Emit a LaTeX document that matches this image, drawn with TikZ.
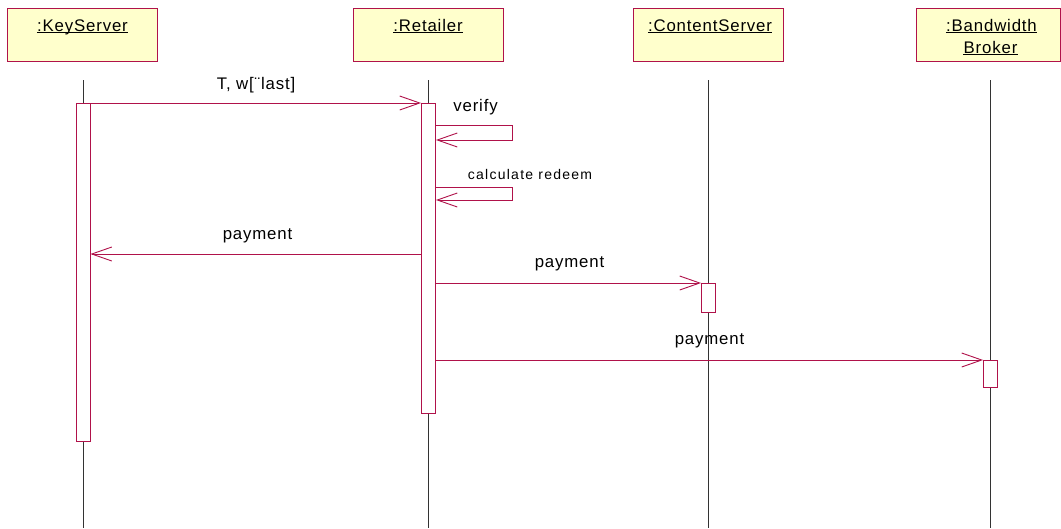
\documentclass[tikz,border=0pt]{standalone}
\usepackage{fontspec}
\setmainfont{Liberation Sans}
\newfontfamily\lblfont[LetterSpace=5]{Liberation Sans}
\newfontfamily\smallfont[LetterSpace=9]{Liberation Sans}
\usetikzlibrary{arrows.meta}
\definecolor{umlred}{HTML}{B0124A}
\definecolor{umlyellow}{HTML}{FFFFCC}
\definecolor{lifegray}{HTML}{333333}
\tikzset{
  obj/.style={draw=umlred, fill=umlyellow, line width=0.9pt, minimum height=53pt, inner sep=0pt},
  act/.style={draw=umlred, fill=white, line width=0.9pt, minimum width=14pt, inner sep=0pt},
  life/.style={draw=lifegray, line width=0.9pt},
  msg/.style={draw=umlred, line width=0.9pt, -{Straight Barb[length=20pt,width=14pt,line width=0.9pt]}},
  selfmsg/.style={msg, rounded corners=0pt},
  lbl/.style={anchor=base, inner sep=0pt, text=black, font=\lblfont\fontsize{16.8}{18}\selectfont},
  smalllbl/.style={anchor=base, inner sep=0pt, text=black, font=\smallfont\fontsize{14}{16}\selectfont},
  ul/.style={draw=black, line width=1pt}
}
\begin{document}
\begin{tikzpicture}[x=1pt,y=-1pt]
\path[use as bounding box, fill=white] (0,0) rectangle (1061,528);

% object boxes
\node[obj, minimum width=150pt] (ks) at (82,34.5) {};
\node[obj, minimum width=150pt] (ret) at (428,34.5) {};
\node[obj, minimum width=150pt] (cs) at (708,34.5) {};
\node[obj, minimum width=144pt] (bb) at (988,34.5) {};

% object names
\node[lbl] (ksname) at (82.5,31) {:KeyServer};
\node[lbl] (retname) at (428,31) {:Retailer};
\node[lbl] (csname) at (710,31) {:ContentServer};
\node[lbl] (bbname1) at (991.5,31) {:Bandwidth\ };
\node[lbl] (bbname2) at (990.5,53) {Broker};
\foreach \n in {ksname,retname,csname,bbname1,bbname2}
  \draw[ul] ([yshift=-1.6pt]\n.base west) -- ([yshift=-1.6pt]\n.base east);

% lifelines
\coordinate (kstop) at (83,80);   \coordinate (ksbot) at (83,528);
\coordinate (rettop) at (428.5,80); \coordinate (retbot) at (428.5,528);
\coordinate (cstop) at (708.5,80);  \coordinate (csbot) at (708.5,528);
\coordinate (bbtop) at (990.5,80);  \coordinate (bbbot) at (990.5,528);
\draw[life] (kstop) -- (ksbot);
\draw[life] (rettop) -- (retbot);
\draw[life] (cstop) -- (csbot);
\draw[life] (bbtop) -- (bbbot);

% activations
\node[act, minimum height=338pt] (ksact) at (83,272) {};
\node[act, minimum height=310pt] (retact) at (428.5,258) {};
\node[act, minimum height=29pt] (csact) at (708.5,297.5) {};
\node[act, minimum height=27pt] (bbact) at (990.5,373.5) {};

% message levels
\coordinate (m1) at (0,103);
\coordinate (v1) at (0,125);
\coordinate (v2) at (0,140);
\coordinate (c1) at (0,187);
\coordinate (c2) at (0,200);
\coordinate (m2) at (0,254);
\coordinate (m3) at (0,283);
\coordinate (m4) at (0,360);
\coordinate (selfx) at (512,0);

% messages
\draw[msg] (ksact.east |- m1) -- (retact.west |- m1);
\node[lbl] (l1) at (256,89) {T, w[¨last]};

\draw[selfmsg] (retact.east |- v1) -- (selfx |- v1) -- (selfx |- v2) -- (retact.east |- v2);
\node[lbl] (l2) at (475.5,111) {verify};

\draw[selfmsg] (retact.east |- c1) -- (selfx |- c1) -- (selfx |- c2) -- (retact.east |- c2);
\node[smalllbl] (l3) at (530,179) {calculate redeem};

\draw[msg] (retact.west |- m2) -- (ksact.east |- m2);
\node[lbl] (l4) at (257.5,239) {payment};

\draw[msg] (retact.east |- m3) -- (csact.west |- m3);
\node[lbl] (l5) at (569.5,267) {payment};

\draw[msg] (retact.east |- m4) -- (bbact.west |- m4);
\node[lbl] (l6) at (709.5,344) {payment};
\end{tikzpicture}
\end{document}
